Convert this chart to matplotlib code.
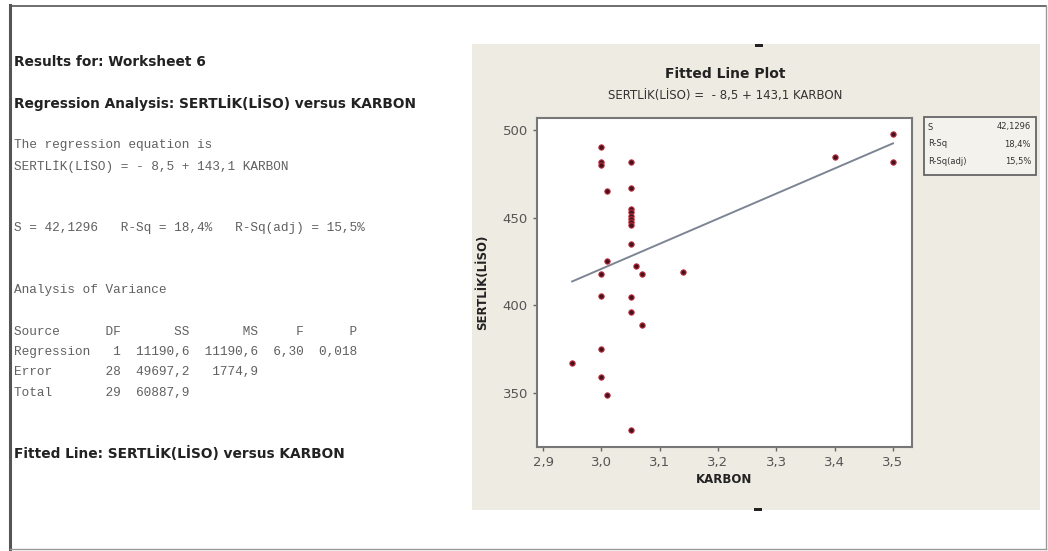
import numpy as np
import matplotlib.pyplot as plt
from matplotlib.patches import Rectangle

# donnees
karbon = [3.00, 3.00, 3.00, 3.05, 3.01, 3.05, 3.05, 3.05, 3.05, 3.05, 3.05,
          3.05, 3.05, 3.01, 3.00, 3.06, 3.07, 3.14, 3.00, 3.05, 3.05, 3.07,
          3.00, 3.00, 3.01, 2.95, 3.05, 3.50, 3.40, 3.50]
sertlik = [490.5, 481.5, 480.0, 481.5, 465.0, 467.0, 455.0, 453.0, 451.0,
           449.0, 447.5, 446.0, 435.0, 425.5, 418.0, 422.5, 418.0, 419.0,
           405.5, 405.0, 396.0, 389.0, 375.0, 359.0, 349.0, 367.0, 329.0,
           497.5, 484.5, 482.0]

# equation de la droite ajustee : SERTLIK = -8,5 + 143,1 KARBON
intercept = -8.5
pente = 143.1

x_ticks = [2.9, 3.0, 3.1, 3.2, 3.3, 3.4, 3.5]
x_labels = ['2,9', '3,0', '3,1', '3,2', '3,3', '3,4', '3,5']
y_ticks = [350, 400, 450, 500]
y_labels = ['350', '400', '450', '500']

stat_noms = ['S', 'R-Sq', 'R-Sq(adj)']
stat_vals = ['42,1296', '18,4%', '15,5%']

W, H = 1048, 551


def fx(px):
    return px / W


def fy(py):
    return 1 - py / H


fig = plt.figure(figsize=(W / 100, H / 100), dpi=100)
fig.patch.set_facecolor('white')

# cadre de la fenetre
fig.add_artist(plt.Line2D([fx(10), fx(10)], [fy(5), fy(550)], color='#555555', lw=2.2, transform=fig.transFigure))
fig.add_artist(plt.Line2D([fx(10), fx(1046)], [fy(6), fy(6)], color='#555555', lw=1.2, transform=fig.transFigure))
fig.add_artist(plt.Line2D([fx(10), fx(1046)], [fy(549), fy(549)], color='#999999', lw=1.0, transform=fig.transFigure))
fig.add_artist(plt.Line2D([fx(1046), fx(1046)], [fy(6), fy(549)], color='#999999', lw=1.0, transform=fig.transFigure))

# texte de la session
gras = dict(fontfamily='DejaVu Sans', fontweight='bold', color='#222222', fontsize=9.9, va='center', ha='left')
mono = dict(fontfamily='Liberation Mono', color='#606060', fontsize=9.2, va='center', ha='left')

fig.text(fx(14), fy(62), 'Results for: Worksheet 6', **gras)
fig.text(fx(14), fy(103), 'Regression Analysis: SERTLİK(LİSO) versus KARBON', **gras)
fig.text(fx(14), fy(145), 'The regression equation is', **mono)
fig.text(fx(14), fy(167), 'SERTLİK(LİSO) = - 8,5 + 143,1 KARBON', **mono)
fig.text(fx(14), fy(228), 'S = 42,1296   R-Sq = 18,4%   R-Sq(adj) = 15,5%', **mono)
fig.text(fx(14), fy(290), 'Analysis of Variance', **mono)
fig.text(fx(14), fy(332), 'Source      DF       SS       MS     F      P', **mono)
fig.text(fx(14), fy(352), 'Regression   1  11190,6  11190,6  6,30  0,018', **mono)
fig.text(fx(14), fy(372), 'Error       28  49697,2   1774,9', **mono)
fig.text(fx(14), fy(393), 'Total       29  60887,9', **mono)
fig.text(fx(14), fy(453), 'Fitted Line: SERTLİK(LİSO) versus KARBON', **gras)

# fond du graphique
fig.add_artist(Rectangle((fx(472), fy(510)), fx(1040 - 472), (510 - 44) / H,
                         transform=fig.transFigure, facecolor='#eeebe2', edgecolor='none', zorder=-5))
fig.add_artist(Rectangle((fx(755), fy(47)), fx(8), 3 / H, transform=fig.transFigure,
                         facecolor='#222222', edgecolor='none'))
fig.add_artist(Rectangle((fx(754), fy(511)), fx(8), 3 / H, transform=fig.transFigure,
                         facecolor='#222222', edgecolor='none'))

ax = fig.add_axes([fx(537), fy(447), fx(912 - 537), (447 - 118) / H])
ax.set_facecolor('white')

xs = np.array([min(karbon), max(karbon)])
ax.plot(xs, intercept + pente * xs, color='#7d8494', lw=1.4, zorder=2)
ax.scatter(karbon, sertlik, s=15, facecolor='#4a1020', edgecolor='#c8303c', linewidth=0.7, zorder=3)

ax.set_xlim(2.8897, 3.5326)
ax.set_ylim(319.3, 506.8)
ax.set_xticks(x_ticks)
ax.set_xticklabels(x_labels)
ax.set_yticks(y_ticks)
ax.set_yticklabels(y_labels)
ax.tick_params(direction='out', length=3, width=1, color='#666666', labelcolor='#555555', labelsize=9.5)
for s in ax.spines.values():
    s.set_color('#777777')
    s.set_linewidth(1.5)

ax.set_xlabel('KARBON', fontsize=8.5, fontweight='bold', color='#222222', labelpad=3)
ax.set_ylabel('SERTLİK(LİSO)', fontsize=8.5, fontweight='bold', color='#222222', labelpad=10)

fig.text(fx(725), fy(74), 'Fitted Line Plot', ha='center', va='center', fontsize=10, fontweight='bold', color='#222222')
fig.text(fx(725), fy(96), 'SERTLİK(LİSO) =  - 8,5 + 143,1 KARBON', ha='center', va='center', fontsize=8.5, color='#333333')

# boite des statistiques
fig.add_artist(Rectangle((fx(924), fy(175)), fx(1036 - 924), (175 - 117) / H, transform=fig.transFigure,
                         facecolor='#f4f2ec', edgecolor='#666666', lw=1.3))
for i in range(len(stat_noms)):
    y = 127 + 17 * i
    fig.text(fx(928), fy(y), stat_noms[i], ha='left', va='center', fontsize=6, color='#333333')
    fig.text(fx(1031), fy(y), stat_vals[i], ha='right', va='center', fontsize=6, color='#333333')

plt.savefig('out.png', dpi=100)
